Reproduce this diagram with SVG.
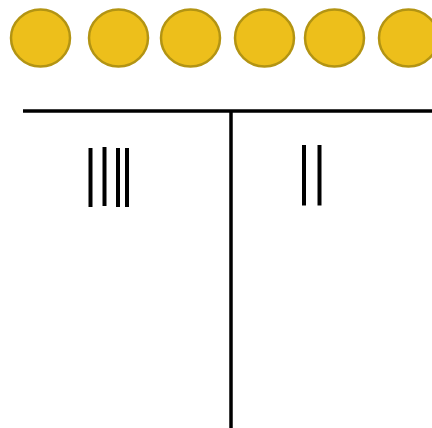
<svg xmlns="http://www.w3.org/2000/svg" width="432" height="428" viewBox="0 0 432 428">
<style>
.c{fill:#EDBF1B;stroke:#B39413;stroke-width:2.5}
.ln{stroke:#000;stroke-width:3.5;fill:none}
.t{stroke:#000;stroke-width:4;fill:none}
</style>
<rect width="432" height="428" fill="#fff"/>
<g id="coin1"><ellipse class="c" cx="40.5" cy="38" rx="29.5" ry="28.5"/></g>
<g id="coin2"><ellipse class="c" cx="118.5" cy="38" rx="29.5" ry="28.5"/></g>
<g id="coin3"><ellipse class="c" cx="190.5" cy="38" rx="29.5" ry="28.5"/></g>
<g id="coin4"><ellipse class="c" cx="264.5" cy="38" rx="29.5" ry="28.5"/></g>
<g id="coin5"><ellipse class="c" cx="334.5" cy="38" rx="29.5" ry="28.5"/></g>
<g id="coin6"><ellipse class="c" cx="408.5" cy="38" rx="29.5" ry="28.5"/></g>
<g id="tchart">
<line class="ln" x1="23" y1="111" x2="432" y2="111"/>
<line class="ln" x1="231" y1="111" x2="231" y2="428"/>
</g>
<g id="tally-left">
<line class="t" x1="90.5" y1="148" x2="90.5" y2="207"/>
<line class="t" x1="104.5" y1="147" x2="104.5" y2="206"/>
<line class="t" x1="118" y1="148" x2="118" y2="207"/>
<line class="t" x1="127" y1="148" x2="127" y2="207"/>
</g>
<g id="tally-right">
<line class="t" x1="304" y1="145" x2="304" y2="205.5"/>
<line class="t" x1="319.5" y1="145" x2="319.5" y2="205.5"/>
</g>
</svg>
